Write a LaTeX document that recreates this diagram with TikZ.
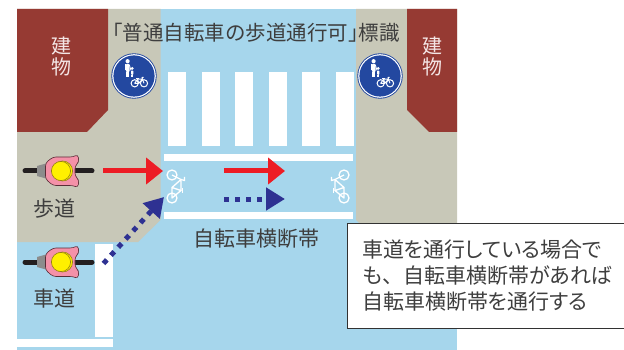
\documentclass[tikz,border=0pt]{standalone}
\usepackage{fontspec}
\setmainfont{Noto Sans CJK JP}
\usetikzlibrary{arrows.meta}

\definecolor{road}{RGB}{166,214,236}
\definecolor{walk}{RGB}{200,200,184}
\definecolor{bldg}{RGB}{150,58,51}
\definecolor{bldgtext}{RGB}{244,230,230}
\definecolor{signblue}{RGB}{35,72,160}
\definecolor{arrowred}{RGB}{237,28,36}
\definecolor{arrowblue}{RGB}{46,49,146}
\definecolor{ink}{RGB}{62,62,62}
\definecolor{riderpink}{RGB}{244,145,168}
\definecolor{riderline}{RGB}{90,45,55}
\definecolor{helmet}{RGB}{255,240,0}
\definecolor{helmetline}{RGB}{150,130,20}
\definecolor{barblack}{RGB}{35,31,32}
\definecolor{seatgrey}{RGB}{140,140,140}

% half-width brackets
\newcommand{\hbr}[1]{{\addfontfeatures{RawFeature=+halt}#1}}
% full-width punctuation inside proportional text
\newcommand{\fwp}[1]{{\addfontfeatures{RawFeature=-palt}#1}}

\tikzset{
  label/.style={inner sep=0pt, text=ink, font=\fontsize{21}{26}\selectfont},
  titlelabel/.style={inner sep=0pt, text=ink, font=\fontsize{20.5}{26}\selectfont},
  notelabel/.style={inner sep=0pt, text=ink, align=left,
    font=\fontsize{21}{26}\selectfont\addfontfeatures{RawFeature=+palt}},
  bldglabel/.style={inner sep=0pt, text=bldgtext, align=center,
    font=\fontsize{20}{21}\selectfont},
  notebox/.style={fill=white, inner sep=0pt, minimum width=277pt,
    minimum height=105pt, anchor=north west},
  noteline/.style={draw=ink!80!black, line width=0.9pt},
  stripe/.style={fill=white},
  redarrow/.style={draw=arrowred, line width=5pt,
    -{Triangle[length=17pt,width=26pt]}},
  bluearrow/.style={draw=arrowblue, line width=5pt, dash pattern=on 5pt off 6pt,
    -{Triangle[length=19pt,width=22pt]}},
  % circular sign: pedestrians and bicycles share the footway
  pics/cyclesign/.style={code={
    \fill[signblue] (0,0) circle (22.7);
    \fill[white] (0,0) circle (21.8);
    \fill[signblue] (0,0) circle (20.6);
    % adult
    \fill[white] (-6.4,-14.8) circle (2.1);
    \fill[white, rounded corners=1pt] (-8.2,-12.2) rectangle (-4.4,-4.0);
    \fill[white] (-9.0,-11.6) rectangle (-8.0,-5.6);
    \fill[white] (-7.9,-4.4) rectangle (-6.5,0.8);
    \fill[white] (-6.1,-4.4) rectangle (-4.7,0.8);
    \draw[white, line width=0.8pt] (-4.6,-11) -- (-3.0,-5.6);
    % child
    \fill[white] (-1.8,-7.6) circle (1.6);
    \fill[white, rounded corners=0.8pt] (-3.0,-5.4) rectangle (-0.6,-1.2);
    \fill[white] (-2.9,-1.4) rectangle (-2.0,1.5);
    \fill[white] (-1.6,-1.4) rectangle (-0.7,1.5);
    % bicycle
    \begin{scope}[draw=white, line width=1pt, line join=round]
      \draw (0.7,7.3) circle (3.6) (10,7.3) circle (3.6);
      \draw (0.7,7.3) -- (4.8,7.3) -- (8.4,3.2) -- (3.6,3.2) -- cycle;
      \draw (3.6,3.2) -- (4.8,7.3);
      \draw (8.4,3.2) -- (10,7.3);
      \draw (8.4,3.2) -- (8,1.4) -- (9.6,1.4);
      \draw (2.4,2.6) -- (4.8,2.6);
    \end{scope}
  }},
  % rider seen from above, heading right
  pics/rider/.style={code={
    \draw[barblack, line width=5pt, line cap=round] (-36,0) -- (31,0);
    \fill[seatgrey] (-24,-5) -- (-15,-7.5) -- (-15,7.5) -- (-24,5) -- cycle;
    \draw[fill=riderpink, draw=riderline, line width=0.6pt, rounded corners=3pt]
      (-8,-14) -- (12,-14) -- (17,-16.5) -- (18,-9) -- (14,-5) -- (14,5)
      -- (18,9) -- (17,16.5) -- (12,14.5) -- (-8,14.5) -- (-15.5,8)
      -- (-15.5,-8) -- cycle;
    \draw[fill=helmet, draw=helmetline, line width=0.6pt] (1.6,0) circle (10);
    \draw[fill=helmet, draw=helmetline, line width=0.6pt] (0,0) circle (9.6);
  }},
  % bicycle road marking, front wheel at the top
  pics/lanebike/.style={code={
    \begin{scope}[draw=white, line width=1.3pt, line join=round]
      \draw (0,-11.5) circle (5) (0,11.5) circle (5);
      \draw (0,11.5) -- (0,1) -- (9,4) -- cycle;
      \draw (0,1) -- (9,-7) -- (9,4);
      \draw (9,-7) -- (0,-11.5);
      \draw (9,-7) -- (12.5,-6) -- (12.5,-9.5);
      \draw (10.5,1.5) -- (10.5,6.5);
    \end{scope}
  }}
}

\begin{document}
\begin{tikzpicture}[x=1pt,y=-1pt]
\useasboundingbox (0,0) rectangle (624,350);

% roadway
\fill[road] (17,9) rectangle (457,350);

% footways
\fill[walk] (17,9) -- (160.5,9) -- (160.5,220) -- (138,242) -- (17,242) -- cycle;
\fill[walk] (356,9) -- (457,9) -- (457,242) -- (378,242) -- (356,220) -- cycle;

% buildings
\fill[bldg] (17,9) -- (108,9) -- (108,110) -- (87,132) -- (17,132) -- cycle;
\fill[bldg] (407,9) -- (457,9) -- (457,132) -- (429,132) -- (407,110) -- cycle;
\node[bldglabel] (bldgL) at (61,56) {建\\物};
\node[bldglabel] (bldgR) at (432,56) {建\\物};

% pedestrian crossing
\foreach \k in {0,...,5}
  \fill[stripe] (168+33.5*\k,72) rectangle (186+33.5*\k,146);

% bicycle crossing
\fill[stripe] (164,154) rectangle (353,161);
\fill[stripe] (164,212) rectangle (353,219);
\pic at (172,186.5) {lanebike};
\pic[xscale=-1] at (344,186.5) {lanebike};

% carriageway edge lines
\fill[stripe] (95,244) rectangle (113,337);
\fill[stripe] (17,339) rectangle (113,347);

% signs
\pic at (134,76) {cyclesign};
\pic at (380,76) {cyclesign};

% riders
\pic at (61,171) {rider};
\pic at (61,262) {rider};

% route arrows
\coordinate (r1s) at (103,171);
\coordinate (r1e) at (163,171);
\coordinate (r2s) at (224,171);
\coordinate (r2e) at (285,171);
\coordinate (b1s) at (103.5,263.5);
\coordinate (b1e) at (164,197);
\coordinate (b2s) at (224,199);
\coordinate (b2e) at (285,199);
\draw[redarrow] (r1s) -- (r1e);
\draw[redarrow] (r2s) -- (r2e);
\draw[bluearrow] (b1s) -- (b1e);
\draw[bluearrow] (b2s) -- (b2e);

% labels
\node[titlelabel] (title) at (256,33) {\hbr{「}普通自転車の歩道通行可\hbr{」}標識};
\node[label] (walkL) at (55,209) {歩道};
\node[label] (roadL) at (55,299) {車道};
\node[label] (lane) at (256,239) {自転車横断帯};

% note
\node[notebox] (note) at (347,223) {};
\draw[noteline] (note.north east) -- (note.north west) -- (note.south west) -- (note.south east);
\node[notelabel, anchor=west] (notetext) at (362,276)
  {車道を通行している場合で\\も\fwp{、}自転車横断帯があれば\\自転車横断帯を通行する};
\end{tikzpicture}
\end{document}
